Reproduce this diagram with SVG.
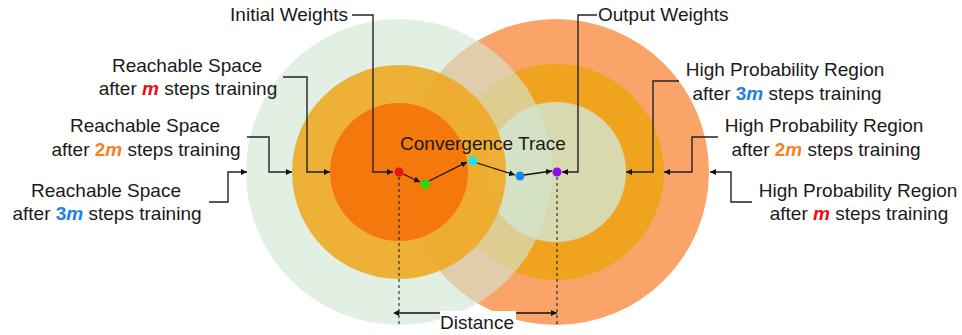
<svg xmlns="http://www.w3.org/2000/svg" width="962" height="335" viewBox="0 0 962 335">
<style>
text{font-family:"Liberation Sans",Arial,sans-serif;font-size:19px;fill:#1a1a1a}
.c{text-anchor:middle}
.r{fill:#f00a0a;font-weight:bold;font-style:italic}
.o{fill:#f5821f;font-weight:bold}
.b{fill:#1a7fe0;font-weight:bold}
.it{font-style:italic}
.ln{fill:none;stroke:#222;stroke-width:1.4}
.tr{fill:none;stroke:#111;stroke-width:1.3}
.ds{fill:none;stroke:#111;stroke-width:1;stroke-dasharray:3 3}
</style>
<defs>
<marker id="ah" viewBox="0 0 10 10" refX="10" refY="5" markerWidth="6" markerHeight="6" orient="auto" markerUnits="userSpaceOnUse">
<path d="M0,0L10,5L0,10z" fill="#111"/>
</marker>
<marker id="as" viewBox="0 0 10 10" refX="0" refY="5" markerWidth="6" markerHeight="6" orient="auto-start-reverse" markerUnits="userSpaceOnUse">
<path d="M0,0L10,5L0,10z" fill="#111"/>
</marker>
</defs>
<g id="right-region">
<circle cx="556" cy="172" r="153" fill="#fba46a"/>
<circle cx="556" cy="172" r="108" fill="#f0a31e"/>
<circle cx="556" cy="172" r="70" fill="#d9d9af"/>
</g>
<g id="left-region">
<circle cx="399" cy="172" r="153" fill="#d1e6d3" opacity="0.63"/>
<circle cx="399" cy="172" r="107" fill="#efaa24" opacity="0.9"/>
<circle cx="399" cy="172" r="69" fill="#f5760a" opacity="0.96"/>
</g>
<g id="connectors">
<polyline class="ln" points="352,15 373,15 373,172 393,172" marker-end="url(#ah)"/>
<polyline class="ln" points="283,77 307,77 307,172 330,172" marker-end="url(#ah)"/>
<polyline class="ln" points="247,137 269,137 269,172 292,172" marker-end="url(#ah)"/>
<polyline class="ln" points="209,202 228,202 228,172 247,172" marker-end="url(#ah)"/>
<polyline class="ln" points="597,15 578,15 578,172 562,172" marker-end="url(#ah)"/>
<polyline class="ln" points="679,81 653,81 653,172 626,172" marker-end="url(#ah)"/>
<polyline class="ln" points="718,137 692,137 692,172 664,172" marker-end="url(#ah)"/>
<polyline class="ln" points="752,202 731,202 731,172 710,172" marker-end="url(#ah)"/>
<line class="tr" x1="403" y1="174" x2="420" y2="182" marker-end="url(#ah)"/>
<line class="tr" x1="429" y1="181" x2="467" y2="162" marker-end="url(#ah)"/>
<line class="tr" x1="477" y1="163" x2="515" y2="175" marker-end="url(#ah)"/>
<line class="tr" x1="524" y1="175" x2="552" y2="171" marker-end="url(#ah)"/>
<line class="ds" x1="399" y1="177" x2="399" y2="325"/>
<line class="ds" x1="557" y1="177" x2="557" y2="325"/>
<line class="tr" x1="399" y1="313" x2="557" y2="313" marker-start="url(#as)" marker-end="url(#ah)"/>
</g>
<g id="trace-points">
<circle cx="399" cy="172" r="4.5" fill="#e81414"/>
<circle cx="425" cy="184" r="4.5" fill="#16e016"/>
<circle cx="473" cy="161" r="4.5" fill="#12e6f5"/>
<circle cx="520" cy="176" r="4.5" fill="#1a86f5"/>
<circle cx="557" cy="172" r="4.5" fill="#8a12f0"/>
</g>
<g id="initial-weights"><text x="348" y="21" text-anchor="end">Initial Weights</text></g>
<g id="output-weights"><text x="598" y="21">Output Weights</text></g>
<g id="convergence-trace"><text class="c" x="483" y="150">Convergence Trace</text></g>
<g id="distance">
<rect x="440" y="311" width="76" height="24" fill="#fff"/>
<text class="c" x="477" y="329">Distance</text>
</g>
<g id="reach-m">
<text class="c" x="187" y="72">Reachable Space</text>
<text class="c" x="188" y="95">after <tspan class="r">m</tspan> steps training</text>
</g>
<g id="reach-2m">
<text class="c" x="145" y="132">Reachable Space</text>
<text class="c" x="146" y="156">after <tspan class="o">2<tspan class="it">m</tspan></tspan> steps training</text>
</g>
<g id="reach-3m">
<text class="c" x="106" y="197">Reachable Space</text>
<text class="c" x="107" y="220">after <tspan class="b">3<tspan class="it">m</tspan></tspan> steps training</text>
</g>
<g id="high-3m">
<text class="c" x="785" y="76">High Probability Region</text>
<text class="c" x="787" y="100">after <tspan class="b">3<tspan class="it">m</tspan></tspan> steps training</text>
</g>
<g id="high-2m">
<text class="c" x="824" y="132">High Probability Region</text>
<text class="c" x="826" y="156">after <tspan class="o">2<tspan class="it">m</tspan></tspan> steps training</text>
</g>
<g id="high-m">
<text class="c" x="858" y="197">High Probability Region</text>
<text class="c" x="859" y="220">after <tspan class="r">m</tspan> steps training</text>
</g>
</svg>
